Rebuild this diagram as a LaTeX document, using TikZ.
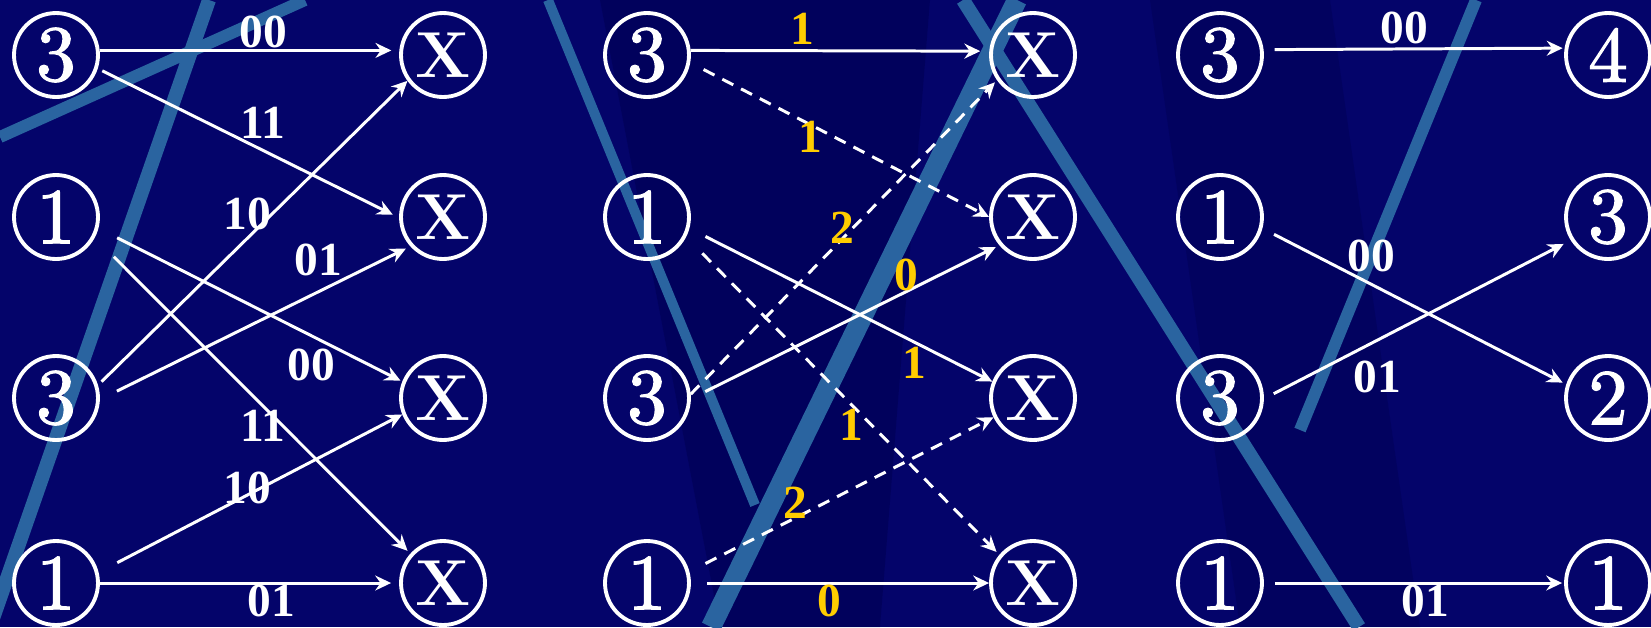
\documentclass[tikz,border=0pt]{standalone}
\usepackage{fontspec}
\usepackage{tikz}
\usetikzlibrary{arrows.meta}
\newfontfamily\lblfont{Liberation Serif}
\newfontfamily\digfont{lmroman10-regular.otf}[FakeBold=1.6]
\definecolor{bgnavy}{RGB}{4,4,106}
\definecolor{bgdark}{RGB}{0,0,80}
\definecolor{streakblue}{RGB}{42,100,160}
\definecolor{costgold}{RGB}{255,204,0}

\begin{document}
\begin{tikzpicture}[
  x=0.02cm, y=-0.02cm,
  st/.style={circle, draw=white, line width=2.2pt, minimum size=1.68cm, inner sep=0pt, text=white, font=\digfont\fontsize{45}{45}\selectfont},
  xst/.style={st, font=\fontsize{37}{37}\selectfont\bfseries},
  br/.style={draw=white, line width=1.7pt, -{Stealth[length=9pt,width=8.5pt,inset=3pt]}},
  brd/.style={br, dash pattern=on 7pt off 5pt},
  bits/.style={text=white, inner sep=0pt, font=\lblfont\bfseries\fontsize{27}{27}\selectfont},
  cost/.style={bits, text=costgold},
  streak/.style={draw=streakblue, line width=0.28cm}
]
  \useasboundingbox (0,0) rectangle (1651,627);
  \clip (0,0) rectangle (1651,627);
  \fill[bgnavy] (0,0) rectangle (1651,627);
  \fill[bgdark, opacity=0.5] (600,0) -- (930,0) -- (880,627) -- (720,627) -- cycle;
  \fill[bgdark, opacity=0.4] (1150,0) -- (1330,0) -- (1420,627) -- (1240,627) -- cycle;
  \draw[streak] (209,0) -- (-10,627);
  \draw[streak, line width=0.24cm] (0,137) -- (305,0);
  \draw[streak, line width=0.2cm] (548,0) -- (755,505);
  \draw[streak, line width=0.4cm] (1017,0) -- (711,627);
  \draw[streak] (963,0) -- (1359,627);
  \draw[streak, line width=0.24cm] (1476,0) -- (1300,430);

  \node[st] (a1) at (56,55) {3};
  \node[st] (a2) at (56,217) {1};
  \node[st] (a3) at (56,398) {3};
  \node[st] (a4) at (56,583) {1};
  \node[xst] (b1) at (443,55) {X};
  \node[xst] (b2) at (443,217) {X};
  \node[xst] (b3) at (443,398) {X};
  \node[xst] (b4) at (443,583) {X};

  \node[st] (c1) at (647,55) {3};
  \node[st] (c2) at (647,217) {1};
  \node[st] (c3) at (647,398) {3};
  \node[st] (c4) at (647,583) {1};
  \node[xst] (d1) at (1033,55) {X};
  \node[xst] (d2) at (1033,217) {X};
  \node[xst] (d3) at (1033,398) {X};
  \node[xst] (d4) at (1033,583) {X};

  \node[st] (e1) at (1220,55) {3};
  \node[st] (e2) at (1220,217) {1};
  \node[st] (e3) at (1220,398) {3};
  \node[st] (e4) at (1220,583) {1};
  \node[st] (f1) at (1608,55) {4};
  \node[st] (f2) at (1608,217) {3};
  \node[st] (f3) at (1608,398) {2};
  \node[st] (f4) at (1608,583) {1};

  \draw[br, shorten >=0.16cm] (a1.6) -- (b1.174);
  \draw[br, shorten <=0.1cm, shorten >=0.14cm] (a1.-18) -- (b2.181);
  \draw[br, shorten <=0.42cm, shorten >=0.04cm] (a2.-15) -- (b3.158);
  \draw[br, shorten <=0.54cm, shorten >=0.08cm] (a2.-28) -- (b4.138);
  \draw[br, shorten <=0.1cm] (a3.17) -- (b1.216);
  \draw[br, shorten <=0.38cm, shorten >=0.1cm] (a3.-2) -- (b2.222);
  \draw[br, shorten <=0.42cm] (a4.14) -- (b3.202);
  \draw[br, shorten >=0.16cm] (a4.0) -- (b4.180);

  \node[bits] (p1) at (263,32) {00};
  \node[bits] (p2) at (263,123) {11};
  \node[bits] (p3) at (247,214) {10};
  \node[bits] (p4) at (318,260) {01};
  \node[bits] (p5) at (311,365) {00};
  \node[bits] (p6) at (263,426) {11};
  \node[bits] (p7) at (247,488) {10};
  \node[bits] (p8) at (271,601) {01};

  \draw[br, shorten >=0.18cm] (c1.6) -- (d1.175);
  \draw[brd, shorten <=0.3cm] (c1.-10) -- (d2.180);
  \draw[br, shorten <=0.36cm] (c2.-15) -- (d3.158);
  \draw[brd, shorten <=0.46cm, shorten >=0.08cm] (c2.-27) -- (d4.140);
  \draw[brd, shorten >=0.06cm] (c3.5) -- (d1.215);
  \draw[br, shorten <=0.32cm, shorten >=0.08cm] (c3.-1) -- (d2.220);
  \draw[brd, shorten <=0.36cm] (c4.15) -- (d3.206);
  \draw[br, shorten <=0.32cm] (c4.0) -- (d4.180);

  \node[cost] (q1) at (802,29) {1};
  \node[cost] (q2) at (810,137) {1};
  \node[cost] (q3) at (842,228) {2};
  \node[cost] (q4) at (906,275) {0};
  \node[cost] (q5) at (914,363) {1};
  \node[cost] (q6) at (851,425) {1};
  \node[cost] (q7) at (795,503) {2};
  \node[cost] (q8) at (829,601) {0};

  \draw[br, shorten <=0.22cm, shorten >=0.04cm] (e1.7) -- (f1.171);
  \draw[br, shorten <=0.26cm, shorten >=0.08cm] (e2.-15) -- (f3.162);
  \draw[br, shorten <=0.22cm, shorten >=0.16cm] (e3.-1) -- (f2.212);
  \draw[br, shorten <=0.22cm, shorten >=0.04cm] (e4.0) -- (f4.180);

  \node[bits] (r1) at (1404,28) {00};
  \node[bits] (r2) at (1371,256) {00};
  \node[bits] (r3) at (1377,377) {01};
  \node[bits] (r4) at (1425,601) {01};
\end{tikzpicture}
\end{document}
